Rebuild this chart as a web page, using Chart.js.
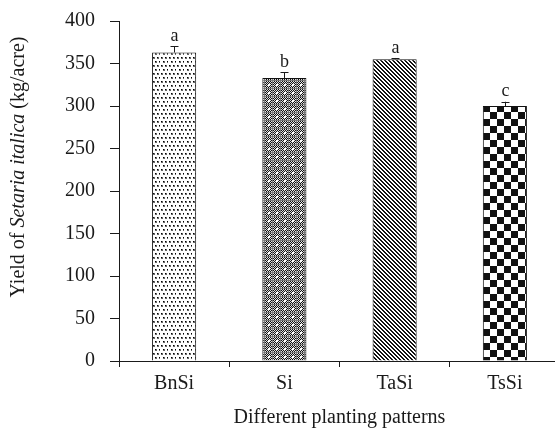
<!DOCTYPE html>
<html>
<head>
<meta charset="utf-8">
<script src="https://cdn.jsdelivr.net/npm/chart.js@4"></script>
<style>
  html, body { margin: 0; padding: 0; background: #fff; overflow: hidden; }
  #wrap { width: 570px; height: 428px; }
</style>
</head>
<body>
<div id="wrap"><canvas id="chart" width="570" height="428"></canvas></div>
<script>
// data
const patterns = ['BnSi', 'Si', 'TaSi', 'TsSi'];
const yieldVals = [363, 333, 355, 300];
const yieldErr = [7, 7, 1.5, 5];
const letters = ['a', 'b', 'a', 'c'];
const yTicks = [0, 50, 100, 150, 200, 250, 300, 350, 400];

const SERIF = '"Liberation Serif", "Times New Roman", serif';
const INK = '#1a1a1a';

// bar fill patterns
function tile(w, h, draw) {
    const c = document.createElement('canvas');
    c.width = w; c.height = h;
    const g = c.getContext('2d');
    draw(g);
    return document.getElementById('chart').getContext('2d').createPattern(c, 'repeat');
}

const fillDots = tile(8, 8, g => {
    g.fillStyle = '#fff'; g.fillRect(0, 0, 8, 8);
    [[1, 1], [5, 1], [3, 5], [7, 5]].forEach(([x, y]) => {
        g.fillStyle = '#666'; g.fillRect(x, y, 2, 2);
        g.fillStyle = '#000'; g.fillRect(x, y, 1, 1);
    });
});
const fillDense = tile(8, 8, g => {
    for (let y = 0; y < 8; y++) for (let x = 0; x < 8; x++) {
        g.fillStyle = (x + y) % 2 ? '#111' : '#ddd';
        g.fillRect(x, y, 1, 1);
    }
    g.fillStyle = '#777'; g.fillRect(0, 0, 8, 1); g.fillRect(0, 0, 1, 8);
    g.fillStyle = '#fff'; g.fillRect(4, 4, 2, 2);
});
const fillStripes = tile(4, 4, g => {
    g.fillStyle = '#fff'; g.fillRect(0, 0, 4, 4);
    g.fillStyle = '#111';
    for (let y = 0; y < 4; y++) for (let x = 0; x < 4; x++) {
        const d = ((x - y) % 4 + 4) % 4;
        if (d < 2) g.fillRect(x, y, 1, 1);
    }
});
const fillChecker = tile(14, 14, g => {
    g.fillStyle = '#fff'; g.fillRect(0, 0, 14, 14);
    g.fillStyle = '#111'; g.fillRect(0, 0, 7, 7); g.fillRect(7, 7, 7, 7);
});

// error bars + letters
const errorBars = {
    id: 'errorBars',
    afterDatasetsDraw(chart) {
        const { ctx, scales: { x, y } } = chart;
        ctx.save();
        ctx.strokeStyle = INK;
        ctx.lineWidth = 1;
        ctx.fillStyle = INK;
        ctx.font = '18px ' + SERIF;
        ctx.textAlign = 'center';
        ctx.textBaseline = 'bottom';
        yieldVals.forEach((v, i) => {
            const cx = Math.round(x.getPixelForValue(i)) + 0.5;
            const top = y.getPixelForValue(v + yieldErr[i]);
            const base = y.getPixelForValue(v);
            ctx.beginPath();
            ctx.moveTo(cx, base); ctx.lineTo(cx, top);
            ctx.moveTo(cx - 4, Math.round(top) + 0.5); ctx.lineTo(cx + 4, Math.round(top) + 0.5);
            ctx.stroke();
            ctx.fillText(letters[i], cx, top - 1);
        });
        ctx.restore();
    }
};

// y title with italic species name
const yTitle = {
    id: 'yTitle',
    afterDraw(chart) {
        const ctx = chart.ctx;
        const parts = [
            ['Yield of ', 'normal'],
            ['Setaria italica', 'italic'],
            [' (kg/acre)', 'normal']
        ];
        ctx.save();
        let total = 0;
        parts.forEach(p => { ctx.font = p[1] + ' 20px ' + SERIF; total += ctx.measureText(p[0]).width; });
        ctx.translate(19, 167);
        ctx.rotate(-Math.PI / 2);
        ctx.fillStyle = INK;
        ctx.textBaseline = 'middle';
        let px = -total / 2;
        parts.forEach(p => {
            ctx.font = p[1] + ' 20px ' + SERIF;
            ctx.fillText(p[0], px, 0);
            px += ctx.measureText(p[0]).width;
        });
        ctx.restore();
    }
};

new Chart(document.getElementById('chart'), {
    type: 'bar',
    data: {
        labels: patterns,
        datasets: [{
            data: yieldVals,
            backgroundColor: [fillDots, fillDense, fillStripes, fillChecker],
            borderColor: '#111',
            borderWidth: 1,
            categoryPercentage: 1,
            barPercentage: 0.4
        }]
    },
    options: {
        responsive: false,
        animation: false,
        layout: { padding: { top: 21, right: 10, left: 0, bottom: 0 } },
        plugins: { legend: { display: false }, tooltip: { enabled: false } },
        scales: {
            x: {
                grid: { display: true, drawOnChartArea: false, offset: true, tickLength: 6, color: INK },
                border: { color: INK, width: 1 },
                ticks: { color: INK, font: { family: SERIF, size: 20 }, padding: 5 },
                title: { display: true, text: 'Different planting patterns', color: INK,
                         font: { family: SERIF, size: 20 }, padding: { top: 0, bottom: -2 } },
                afterFit: s => { s.height = 67; s.paddingLeft = 0; s.paddingRight = 0; }
            },
            y: {
                min: 0, max: 400,
                afterBuildTicks: s => { s.ticks = yTicks.map(v => ({ value: v })); },
                grid: { drawOnChartArea: false, tickLength: 9, color: INK },
                border: { color: INK, width: 1 },
                ticks: { color: INK, font: { family: SERIF, size: 20 }, padding: 15 },
                afterFit: s => { s.width = 119; s.paddingTop = 0; s.paddingBottom = 0; }
            }
        }
    },
    plugins: [errorBars, yTitle]
});
</script>
</body>
</html>
